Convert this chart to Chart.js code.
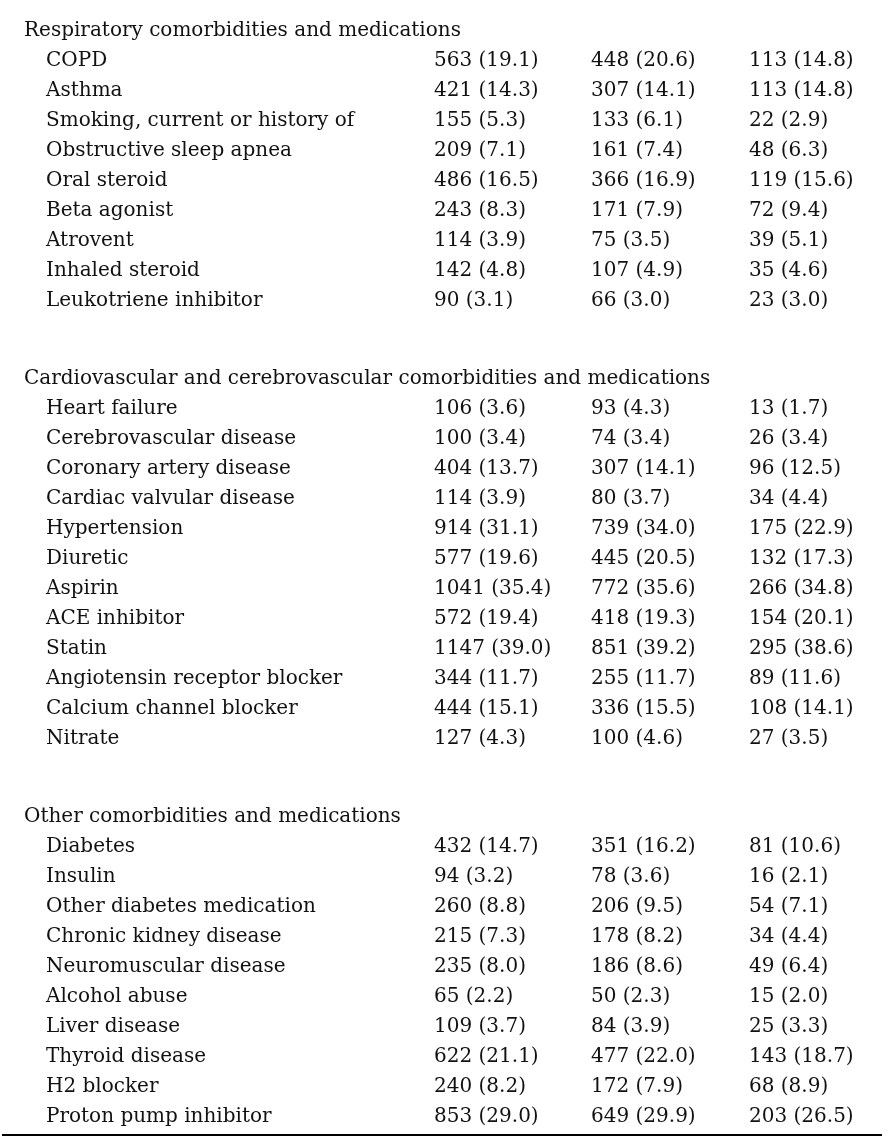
<!DOCTYPE html>
<html>
<head>
<meta charset="utf-8">
<script src="https://cdn.jsdelivr.net/npm/chart.js@4.4.1/dist/chart.umd.min.js"></script>
<style>
  html, body { margin: 0; padding: 0; background: #fff; }
  #wrap { width: 890px; height: 1142px; position: relative; }
</style>
</head>
<body>
<div id="wrap"><canvas id="tbl"></canvas></div>
<script>
// section titles and the rows under each
const sectionTitles = [
  'Respiratory comorbidities and medications',
  'Cardiovascular and cerebrovascular comorbidities and medications',
  'Other comorbidities and medications'
];
const respLabels = ['COPD', 'Asthma', 'Smoking, current or history of', 'Obstructive sleep apnea',
  'Oral steroid', 'Beta agonist', 'Atrovent', 'Inhaled steroid', 'Leukotriene inhibitor'];
const cardioLabels = ['Heart failure', 'Cerebrovascular disease', 'Coronary artery disease',
  'Cardiac valvular disease', 'Hypertension', 'Diuretic', 'Aspirin', 'ACE inhibitor', 'Statin',
  'Angiotensin receptor blocker', 'Calcium channel blocker', 'Nitrate'];
const otherLabels = ['Diabetes', 'Insulin', 'Other diabetes medication', 'Chronic kidney disease',
  'Neuromuscular disease', 'Alcohol abuse', 'Liver disease', 'Thyroid disease', 'H2 blocker',
  'Proton pump inhibitor'];

// n (%) per column, rows in the same order as the labels above
const col1N = [563, 421, 155, 209, 486, 243, 114, 142, 90,
  106, 100, 404, 114, 914, 577, 1041, 572, 1147, 344, 444, 127,
  432, 94, 260, 215, 235, 65, 109, 622, 240, 853];
const col1Pct = [19.1, 14.3, 5.3, 7.1, 16.5, 8.3, 3.9, 4.8, 3.1,
  3.6, 3.4, 13.7, 3.9, 31.1, 19.6, 35.4, 19.4, 39.0, 11.7, 15.1, 4.3,
  14.7, 3.2, 8.8, 7.3, 8.0, 2.2, 3.7, 21.1, 8.2, 29.0];
const col2N = [448, 307, 133, 161, 366, 171, 75, 107, 66,
  93, 74, 307, 80, 739, 445, 772, 418, 851, 255, 336, 100,
  351, 78, 206, 178, 186, 50, 84, 477, 172, 649];
const col2Pct = [20.6, 14.1, 6.1, 7.4, 16.9, 7.9, 3.5, 4.9, 3.0,
  4.3, 3.4, 14.1, 3.7, 34.0, 20.5, 35.6, 19.3, 39.2, 11.7, 15.5, 4.6,
  16.2, 3.6, 9.5, 8.2, 8.6, 2.3, 3.9, 22.0, 7.9, 29.9];
const col3N = [113, 113, 22, 48, 119, 72, 39, 35, 23,
  13, 26, 96, 34, 175, 132, 266, 154, 295, 89, 108, 27,
  81, 16, 54, 34, 49, 15, 25, 143, 68, 203];
const col3Pct = [14.8, 14.8, 2.9, 6.3, 15.6, 9.4, 5.1, 4.6, 3.0,
  1.7, 3.4, 12.5, 4.4, 22.9, 17.3, 34.8, 20.1, 38.6, 11.6, 14.1, 3.5,
  10.6, 2.1, 7.1, 4.4, 6.4, 2.0, 3.3, 18.7, 8.9, 26.5];

// layout (x in canvas px units, y in row slots)
const W = 890, H = 1142;
const rowH = 30, firstRowPx = 31, sectionGap = 2.6;
const xTitle = 24, xLabel = 46, xCols = [434, 591, 749];
const fontSpec = '20px "DejaVu Serif"';

const sections = [respLabels, cardioLabels, otherLabels];
const titleRows = [], labelRows = [];
let slot = 0;
sections.forEach((labels, s) => {
  if (s > 0) slot += sectionGap;
  titleRows.push({ x: xTitle, y: slot, text: sectionTitles[s] });
  labels.forEach(l => { slot += 1; labelRows.push({ x: xLabel, y: slot, text: l }); });
});
const lastSlot = slot;

function cellRows(ns, pcts, x) {
  return labelRows.map((r, i) => ({ x: x, y: r.y, text: ns[i] + ' (' + pcts[i].toFixed(1) + ')' }));
}

const textDataset = (data) => ({ data: data, pointRadius: 0, pointHoverRadius: 0, showLine: false });

const tablePlugin = {
  id: 'tableText',
  afterDatasetsDraw(chart) {
    const ctx = chart.ctx;
    ctx.save();
    ctx.font = fontSpec;
    ctx.fillStyle = '#111';
    ctx.textAlign = 'left';
    ctx.textBaseline = 'middle';
    chart.data.datasets.forEach((ds, di) => {
      chart.getDatasetMeta(di).data.forEach((pt, i) => {
        ctx.fillText(ds.data[i].text, pt.x, pt.y);
      });
    });
    // bottom rule
    const yS = chart.scales.y, xS = chart.scales.x;
    const yLine = Math.round(yS.getPixelForValue(lastSlot + 0.6));
    ctx.fillStyle = '#000';
    ctx.fillRect(xS.getPixelForValue(2), yLine - 1, xS.getPixelForValue(882) - xS.getPixelForValue(2), 2);
    ctx.restore();
  }
};

const yMin = -firstRowPx / rowH;
new Chart(document.getElementById('tbl'), {
  type: 'scatter',
  data: {
    datasets: [
      textDataset(titleRows),
      textDataset(labelRows),
      textDataset(cellRows(col1N, col1Pct, xCols[0])),
      textDataset(cellRows(col2N, col2Pct, xCols[1])),
      textDataset(cellRows(col3N, col3Pct, xCols[2]))
    ]
  },
  options: {
    responsive: true,
    maintainAspectRatio: false,
    animation: false,
    layout: { padding: 0 },
    plugins: { legend: { display: false }, tooltip: { enabled: false } },
    scales: {
      x: { type: 'linear', display: false, min: 0, max: W },
      y: { type: 'linear', display: false, reverse: true, min: yMin, max: yMin + H / rowH }
    }
  },
  plugins: [tablePlugin]
});
</script>
</body>
</html>
